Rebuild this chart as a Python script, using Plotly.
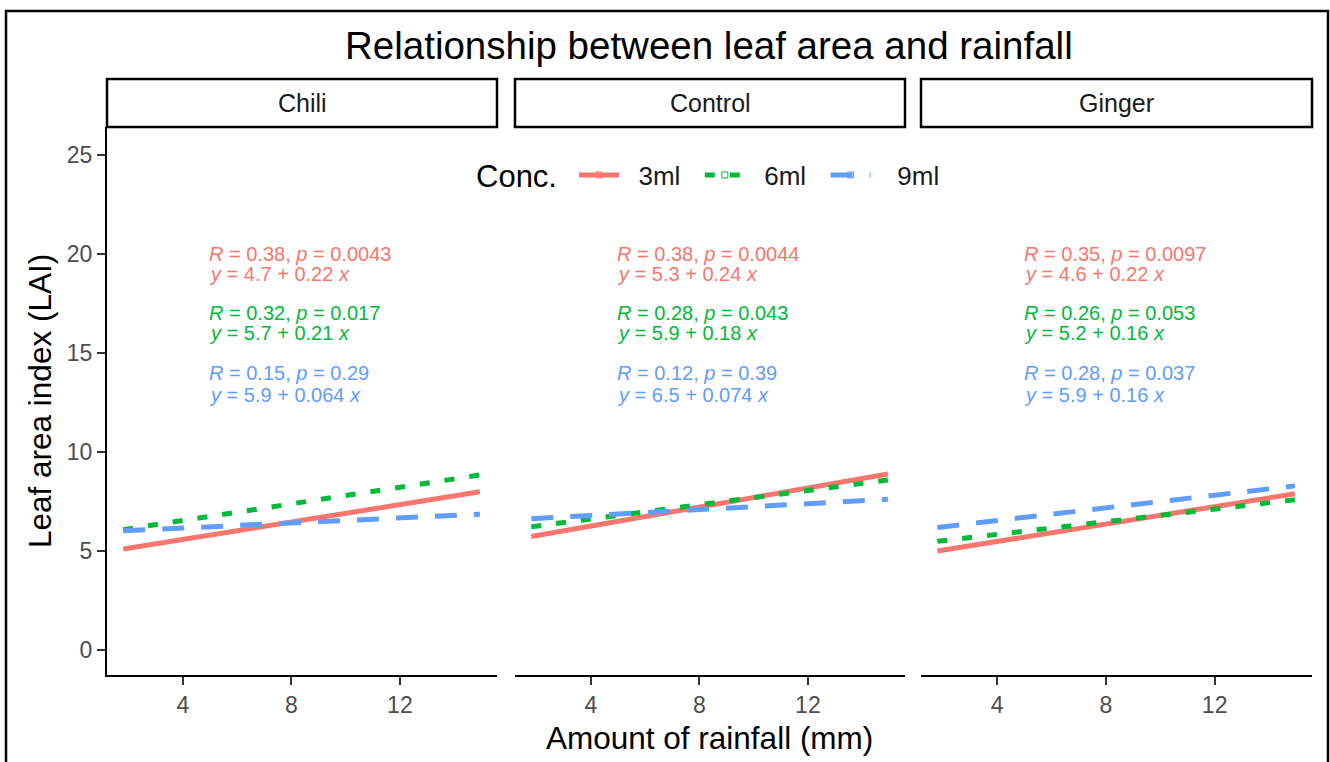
import plotly.graph_objects as go

# ---------------- data ----------------
treatments = ["Chili", "Control", "Ginger"]
concs = ["3ml", "6ml", "9ml"]

# rainfall extent of fitted lines
line_x = [1.8, 14.95]

# fitted line values at the start / end of the rainfall range, per treatment
start_3ml = [5.10, 5.73, 5.00]
end_3ml = [7.99, 8.89, 7.89]
start_6ml = [6.08, 6.22, 5.49]
end_6ml = [8.84, 8.59, 7.59]
start_9ml = [6.02, 6.63, 6.19]
end_9ml = [6.86, 7.61, 8.29]

# correlation / regression labels per treatment
r_3ml = ["0.38", "0.38", "0.35"]
p_3ml = ["0.0043", "0.0044", "0.0097"]
a_3ml = ["4.7", "5.3", "4.6"]
b_3ml = ["0.22", "0.24", "0.22"]

r_6ml = ["0.32", "0.28", "0.26"]
p_6ml = ["0.017", "0.043", "0.053"]
a_6ml = ["5.7", "5.9", "5.2"]
b_6ml = ["0.21", "0.18", "0.16"]

r_9ml = ["0.15", "0.12", "0.28"]
p_9ml = ["0.29", "0.39", "0.037"]
a_9ml = ["5.9", "6.5", "5.9"]
b_9ml = ["0.064", "0.074", "0.16"]

x_ticks = [4, 8, 12]
y_ticks = [0, 5, 10, 15, 20, 25]

# ---------------- styling ----------------
W, H = 1330, 762
FONT = "Liberation Sans, Arial, sans-serif"
colors = {"3ml": "#F8766D", "6ml": "#00BA38", "9ml": "#619CFF"}
dashes = {"3ml": "solid", "6ml": "10px,15px", "9ml": "22px,17px"}

panel_px = [(107, 497), (515, 905), (921, 1312)]
panel_top, panel_bottom = 127, 675
strip_top = 79
NB = "\u00a0"


def px_x(v):
    return v / W


def px_y(v):
    return 1 - v / H


starts = {"3ml": start_3ml, "6ml": start_6ml, "9ml": start_9ml}
ends = {"3ml": end_3ml, "6ml": end_6ml, "9ml": end_9ml}
rs = {"3ml": r_3ml, "6ml": r_6ml, "9ml": r_9ml}
ps = {"3ml": p_3ml, "6ml": p_6ml, "9ml": p_9ml}
as_ = {"3ml": a_3ml, "6ml": a_6ml, "9ml": a_9ml}
bs = {"3ml": b_3ml, "6ml": b_6ml, "9ml": b_9ml}

label_x = 4.9
r_row_y = {"3ml": 20, "6ml": 17, "9ml": 14}
eq_row_y = {"3ml": 19, "6ml": 16, "9ml": 12.9}

fig = go.Figure()
annotations = []
shapes = []

for i, t in enumerate(treatments):
    xa = "x" if i == 0 else f"x{i+1}"
    ya = "y" if i == 0 else f"y{i+1}"
    for c in concs:
        fig.add_trace(go.Scatter(
            x=line_x, y=[starts[c][i], ends[c][i]],
            mode="lines", xaxis=xa, yaxis=ya,
            line=dict(color=colors[c], width=5, dash=dashes[c]),
            showlegend=False, hoverinfo="skip"))
        annotations.append(dict(
            x=label_x, y=r_row_y[c], xref=xa, yref=ya,
            text=f"<i>R</i> = {rs[c][i]}, <i>p</i> = {ps[c][i]}",
            showarrow=False, xanchor="left", yanchor="middle",
            font=dict(family=FONT, size=20, color=colors[c])))
        annotations.append(dict(
            x=label_x, y=eq_row_y[c], xref=xa, yref=ya,
            text=f"<i>y</i> = {as_[c][i]} + {bs[c][i]} <i>x</i>",
            showarrow=False, xanchor="left", yanchor="middle",
            font=dict(family=FONT, size=20, color=colors[c])))

# legend-only entries
legend_gap = {"3ml": 2, "6ml": 2, "9ml": 3}
for c in concs:
    fig.add_trace(go.Scatter(
        x=[None], y=[None], mode="lines+markers",
        name=NB * legend_gap[c] + c + NB * 2,
        line=dict(color=colors[c], width=5, dash=dashes[c]),
        marker=dict(symbol="square-open", size=6, color=colors[c]),
        showlegend=True))

layout = dict(
    width=W, height=H,
    margin=dict(l=0, r=0, t=0, b=0),
    paper_bgcolor="white", plot_bgcolor="white",
    font=dict(family=FONT, color="black"),
    showlegend=True,
    legend=dict(
        orientation="h", x=px_x(574), y=px_y(175),
        xanchor="left", yanchor="middle",
        font=dict(size=26, color="#1A1A1A"),
        bgcolor="rgba(0,0,0,0)", itemwidth=40),
)

yrange = [-1.26, 26.41]
xrange = [1.2, 15.58]
for i, (l, r) in enumerate(panel_px):
    xk = "xaxis" if i == 0 else f"xaxis{i+1}"
    yk = "yaxis" if i == 0 else f"yaxis{i+1}"
    ya = "y" if i == 0 else f"y{i+1}"
    layout[xk] = dict(
        domain=[px_x(l), px_x(r)], range=xrange, anchor=ya,
        tickvals=x_ticks, ticks="outside", ticklen=8, tickwidth=2,
        tickcolor="#333333", showline=True, linecolor="black", linewidth=2,
        showgrid=False, zeroline=False,
        tickfont=dict(family=FONT, size=23, color="#4D4D4D"))
    ydict = dict(
        domain=[px_y(panel_bottom), px_y(panel_top)], range=yrange,
        anchor="x" if i == 0 else f"x{i+1}",
        showgrid=False, zeroline=False)
    if i == 0:
        ydict.update(tickvals=y_ticks, ticks="outside", ticklen=8, tickwidth=2,
                     tickcolor="#333333", showline=True, linecolor="black",
                     linewidth=2,
                     tickfont=dict(family=FONT, size=23, color="#4D4D4D"))
    else:
        ydict.update(matches="y", showticklabels=False, showline=False,
                     ticks="")
    layout[yk] = ydict

    # facet strip
    shapes.append(dict(type="rect", xref="paper", yref="paper",
                       x0=px_x(l), x1=px_x(r), y0=px_y(panel_top), y1=px_y(strip_top),
                       line=dict(color="black", width=2.5), fillcolor="white",
                       layer="below"))
    annotations.append(dict(x=px_x((l + r) / 2), y=px_y((strip_top + panel_top) / 2),
                            xref="paper", yref="paper", text=treatments[i],
                            showarrow=False, xanchor="center", yanchor="middle",
                            font=dict(family=FONT, size=25, color="#1A1A1A")))

# legend title
annotations.append(dict(x=px_x(474), y=px_y(176), xref="paper", yref="paper",
                        text="Conc.", showarrow=False, xanchor="left",
                        yanchor="middle",
                        font=dict(family=FONT, size=31, color="black")))

# outer frame
shapes.append(dict(type="rect", xref="paper", yref="paper",
                   x0=px_x(6), x1=px_x(1328), y0=px_y(775), y1=px_y(11),
                   line=dict(color="black", width=2.5), fillcolor="rgba(0,0,0,0)"))

# title and axis titles
annotations.append(dict(x=px_x(709), y=px_y(45), xref="paper", yref="paper",
                        text="Relationship between leaf area and rainfall",
                        showarrow=False, xanchor="center", yanchor="middle",
                        font=dict(family=FONT, size=38.5, color="black")))
annotations.append(dict(x=px_x(709), y=px_y(738), xref="paper", yref="paper",
                        text="Amount of rainfall (mm)",
                        showarrow=False, xanchor="center", yanchor="middle",
                        font=dict(family=FONT, size=31.5, color="black")))
annotations.append(dict(x=px_x(40), y=px_y(401), xref="paper", yref="paper",
                        text="Leaf area index (LAI)", textangle=-90,
                        showarrow=False, xanchor="center", yanchor="middle",
                        font=dict(family=FONT, size=31.5, color="black")))

layout["annotations"] = annotations
layout["shapes"] = shapes
fig.update_layout(**layout)

fig.write_html("out.html")
